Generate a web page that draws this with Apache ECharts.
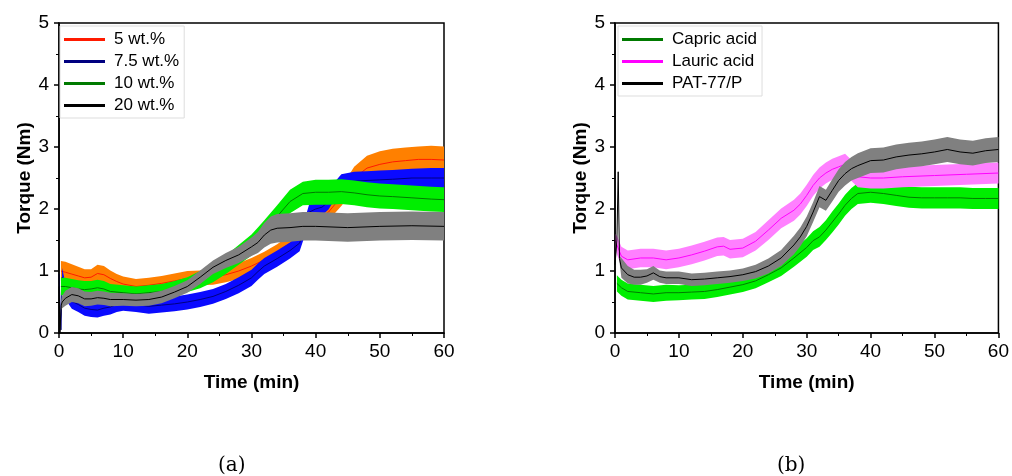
<!DOCTYPE html>
<html>
<head>
<meta charset="utf-8">
<script src="https://cdn.jsdelivr.net/npm/echarts@6/dist/echarts.min.js"></script>
<style>
html,body{margin:0;padding:0;background:#fff;}
#chart{width:1012px;height:476px;}
</style>
</head>
<body>
<div id="chart"></div>
<script>
// ---------- Panel (a): torque vs time, filler loading ----------
const t5 = [0.3, 1, 2, 3, 4, 5, 6, 7, 8, 9, 10, 12, 14, 16, 18, 20, 22, 24, 26, 28, 30, 32, 34, 36, 38, 40, 42, 44, 46, 48, 50, 52, 54, 56, 58, 60];
const mean5 = [1.0, 0.98, 0.95, 0.92, 0.89, 0.9, 0.96, 0.94, 0.88, 0.83, 0.79, 0.75, 0.77, 0.8, 0.84, 0.88, 0.89, 0.9, 0.94, 1.0, 1.08, 1.18, 1.3, 1.45, 1.62, 1.8, 1.95, 2.2, 2.5, 2.66, 2.72, 2.76, 2.78, 2.8, 2.8, 2.79];
const spread5 = [0.16, 0.17, 0.16, 0.15, 0.14, 0.13, 0.14, 0.14, 0.13, 0.12, 0.12, 0.12, 0.12, 0.12, 0.12, 0.12, 0.12, 0.12, 0.12, 0.13, 0.13, 0.13, 0.13, 0.13, 0.13, 0.13, 0.13, 0.15, 0.18, 0.2, 0.21, 0.21, 0.21, 0.21, 0.22, 0.22];

const t75 = [0, 0.3, 0.5, 0.8, 1, 2, 3, 4, 5, 6, 7, 8, 9, 10, 12, 14, 16, 18, 20, 22, 24, 26, 28, 30, 31, 32, 34, 36, 37.5, 38.3, 39, 40, 41, 42, 43, 44, 46, 48, 50, 52, 55, 58, 60];
const mean75 = [0.95, 0.05, 0.9, 0.75, 0.67, 0.51, 0.46, 0.4, 0.38, 0.37, 0.4, 0.42, 0.46, 0.48, 0.46, 0.43, 0.45, 0.47, 0.5, 0.54, 0.59, 0.67, 0.77, 0.89, 0.99, 1.08, 1.2, 1.33, 1.45, 1.7, 1.95, 2.0, 2.03, 2.12, 2.3, 2.42, 2.45, 2.46, 2.47, 2.48, 2.5, 2.5, 2.5];
const spread75 = [0.02, 0.02, 0.15, 0.15, 0.13, 0.12, 0.12, 0.12, 0.12, 0.12, 0.12, 0.12, 0.12, 0.12, 0.12, 0.12, 0.12, 0.12, 0.12, 0.12, 0.12, 0.12, 0.13, 0.13, 0.13, 0.13, 0.13, 0.13, 0.13, 0.13, 0.13, 0.13, 0.13, 0.13, 0.14, 0.14, 0.15, 0.15, 0.15, 0.15, 0.15, 0.16, 0.16];

const t10 = [0.3, 1, 2, 3, 4, 5, 6, 7, 8, 10, 12, 14, 16, 18, 20, 22, 24, 26, 28, 30, 31, 32, 34, 36, 38, 40, 42, 44, 46, 48, 50, 52, 55, 58, 60];
const mean10 = [0.75, 0.75, 0.73, 0.71, 0.7, 0.71, 0.73, 0.71, 0.67, 0.65, 0.63, 0.65, 0.67, 0.72, 0.78, 0.86, 0.97, 1.1, 1.26, 1.42, 1.52, 1.64, 1.88, 2.12, 2.25, 2.27, 2.27, 2.28, 2.26, 2.23, 2.21, 2.2, 2.18, 2.16, 2.15];
const spread10 = [0.14, 0.14, 0.14, 0.14, 0.14, 0.13, 0.13, 0.13, 0.12, 0.12, 0.12, 0.12, 0.12, 0.12, 0.12, 0.14, 0.15, 0.15, 0.16, 0.17, 0.18, 0.18, 0.18, 0.19, 0.19, 0.2, 0.2, 0.2, 0.2, 0.2, 0.2, 0.2, 0.2, 0.2, 0.2];

const t20 = [0, 0.15, 0.35, 0.5, 1, 2, 3, 4, 5, 6, 7, 8, 10, 12, 14, 16, 18, 20, 22, 24, 26, 28, 30, 31, 32, 33, 34, 36, 38, 40, 45, 50, 55, 60];
const mean20 = [0.75, 0.0, 0.45, 0.5, 0.56, 0.62, 0.6, 0.55, 0.55, 0.57, 0.56, 0.54, 0.54, 0.53, 0.54, 0.58, 0.66, 0.75, 0.9, 1.06, 1.17, 1.26, 1.39, 1.46, 1.58, 1.66, 1.69, 1.7, 1.72, 1.72, 1.7, 1.72, 1.73, 1.72];
const spread20 = [0.02, 0.02, 0.08, 0.1, 0.12, 0.12, 0.12, 0.12, 0.11, 0.11, 0.11, 0.11, 0.1, 0.1, 0.1, 0.1, 0.1, 0.1, 0.11, 0.11, 0.12, 0.13, 0.15, 0.17, 0.2, 0.22, 0.23, 0.23, 0.23, 0.23, 0.23, 0.23, 0.23, 0.23];

// ---------- Panel (b): torque vs time, plasticizer type ----------
const tCa = [0.3, 1, 2, 4, 6, 8, 10, 12, 14, 16, 18, 20, 22, 24, 26, 28, 30, 31, 32, 33, 34, 35, 36, 37, 38, 40, 42, 44, 46, 48, 50, 52, 54, 56, 58, 60];
const meanCa = [0.8, 0.73, 0.67, 0.65, 0.63, 0.65, 0.65, 0.66, 0.67, 0.7, 0.74, 0.78, 0.84, 0.94, 1.05, 1.21, 1.38, 1.49, 1.55, 1.66, 1.79, 1.92, 2.06, 2.17, 2.25, 2.27, 2.25, 2.22, 2.19, 2.18, 2.18, 2.18, 2.18, 2.17, 2.17, 2.17];
const spreadCa = [0.13, 0.13, 0.13, 0.13, 0.13, 0.13, 0.12, 0.12, 0.12, 0.12, 0.12, 0.12, 0.12, 0.12, 0.13, 0.14, 0.15, 0.15, 0.16, 0.16, 0.17, 0.17, 0.17, 0.17, 0.17, 0.17, 0.17, 0.17, 0.17, 0.17, 0.17, 0.17, 0.17, 0.17, 0.17, 0.17];

const tLa = [0, 0.3, 1, 2, 4, 6, 8, 10, 12, 14, 16, 17, 18, 20, 22, 24, 26, 28, 29, 30, 31, 32, 33, 34, 35, 36, 37, 38, 40, 42, 45, 50, 55, 60];
const meanLa = [1.5, 1.42, 1.24, 1.18, 1.21, 1.21, 1.18, 1.21, 1.26, 1.32, 1.39, 1.4, 1.35, 1.37, 1.48, 1.66, 1.85, 1.98, 2.08, 2.22, 2.38, 2.5, 2.58, 2.64, 2.68, 2.72, 2.62, 2.52, 2.5, 2.5, 2.52, 2.54, 2.56, 2.58];
const spreadLa = [0.1, 0.15, 0.15, 0.15, 0.15, 0.15, 0.15, 0.15, 0.15, 0.15, 0.15, 0.15, 0.15, 0.15, 0.15, 0.16, 0.16, 0.17, 0.17, 0.17, 0.17, 0.17, 0.17, 0.17, 0.17, 0.17, 0.17, 0.17, 0.17, 0.17, 0.17, 0.17, 0.17, 0.17];

const tPa = [0, 0.3, 0.5, 0.7, 1, 2, 3, 4, 5, 6, 7, 8, 10, 12, 14, 16, 18, 20, 22, 24, 26, 28, 29, 30, 31, 32, 33, 34, 35, 36, 37, 38, 40, 42, 44, 46, 48, 50, 52, 54, 56, 58, 60];
const meanPa = [1.1, 1.5, 2.6, 1.2, 1.05, 0.94, 0.9, 0.9, 0.92, 0.97, 0.91, 0.89, 0.89, 0.86, 0.87, 0.89, 0.91, 0.94, 0.99, 1.08, 1.21, 1.42, 1.55, 1.72, 1.95, 2.2, 2.14, 2.3, 2.46, 2.57, 2.65, 2.7, 2.78, 2.79, 2.84, 2.87, 2.89, 2.92, 2.96, 2.92, 2.9, 2.94, 2.96];
const spreadPa = [0.03, 0.03, 0.03, 0.05, 0.16, 0.14, 0.12, 0.12, 0.11, 0.11, 0.1, 0.1, 0.1, 0.1, 0.1, 0.1, 0.1, 0.1, 0.11, 0.12, 0.13, 0.15, 0.15, 0.16, 0.16, 0.17, 0.17, 0.18, 0.18, 0.19, 0.19, 0.2, 0.2, 0.2, 0.2, 0.2, 0.2, 0.2, 0.2, 0.2, 0.2, 0.2, 0.2];

const xTicks = { min: 0, max: 60, interval: 10 };
const yTicks = { min: 0, max: 5, interval: 1 };
const legendA = ['5 wt.%', '7.5 wt.%', '10 wt.%', '20 wt.%'];
const legendB = ['Capric acid', 'Lauric acid', 'PAT-77/P'];

const FONT = '"Liberation Sans", Arial, sans-serif';

function buildPair(name, t, m, s, lineColor, bandColor, gi, order) {
  const band = t.map((x, i) => [x, m[i] - s[i], m[i] + s[i]]);
  const mean = t.map((x, i) => [x, m[i]]);
  return [
    {
      type: 'custom', name: name + ' band', xAxisIndex: gi, yAxisIndex: gi, silent: true,
      z: 2 + 2 * order,
      data: band, encode: { x: 0, y: [1, 2] }, clip: true,
      renderItem: function (params, api) {
        if (params.dataIndex !== 0) return null;
        const upper = band.map(p => api.coord([p[0], p[2]]));
        const lower = band.map(p => api.coord([p[0], p[1]])).reverse();
        return { type: 'polygon', shape: { points: upper.concat(lower) }, style: { fill: bandColor, stroke: null } };
      }
    },
    { type: 'line', name: name, xAxisIndex: gi, yAxisIndex: gi, data: mean, symbol: 'none',
      z: 3 + 2 * order,
      lineStyle: { width: 1, color: lineColor }, itemStyle: { color: lineColor } }
  ];
}

function xAxisCfg(gi) {
  return {
    type: 'value', gridIndex: gi, min: xTicks.min, max: xTicks.max, interval: xTicks.interval,
    name: 'Time (min)', nameLocation: 'middle', nameGap: 40, z: 30,
    nameTextStyle: { fontFamily: FONT, fontSize: 19, fontWeight: 'bold', color: '#000' },
    axisLine: { show: true, onZero: false, lineStyle: { color: '#000', width: 1.5 } },
    axisTick: { show: true, inside: false, length: 5, lineStyle: { color: '#000', width: 1.5 } },
    minorTick: { show: true, splitNumber: 2, length: 3, lineStyle: { color: '#000', width: 1 } },
    splitLine: { show: false },
    axisLabel: { fontFamily: FONT, fontSize: 19, color: '#000', margin: 9 }
  };
}
function yAxisCfg(gi) {
  return {
    type: 'value', gridIndex: gi, min: yTicks.min, max: yTicks.max, interval: yTicks.interval,
    name: 'Torque (Nm)', nameLocation: 'middle', nameGap: 25, z: 30,
    nameTextStyle: { fontFamily: FONT, fontSize: 19, fontWeight: 'bold', color: '#000' },
    axisLine: { show: true, onZero: false, lineStyle: { color: '#000', width: 1.5 } },
    axisTick: { show: true, inside: false, length: 5, lineStyle: { color: '#000', width: 1.5 } },
    minorTick: { show: true, splitNumber: 2, length: 3, lineStyle: { color: '#000', width: 1 } },
    splitLine: { show: false },
    axisLabel: { fontFamily: FONT, fontSize: 19, color: '#000', margin: 10 }
  };
}
function legendCfg(names, left, top) {
  return {
    data: names.map(n => ({ name: n, icon: 'rect' })),
    orient: 'vertical', left: left, top: top, z: 40,
    itemWidth: 41, itemHeight: 3, itemGap: 5,
    padding: [5, 5, 4, 4],
    borderColor: '#dddddd', borderWidth: 1, backgroundColor: '#fff',
    textStyle: { fontFamily: FONT, fontSize: 17, color: '#000', lineHeight: 16, padding: [0, 0, 0, 4] }
  };
}

const series = [].concat(
  buildPair('5 wt.%', t5, mean5, spread5, '#ff1a00', '#ff8000', 0, 0),
  buildPair('7.5 wt.%', t75, mean75, spread75, '#000080', '#0a0aff', 0, 1),
  buildPair('10 wt.%', t10, mean10, spread10, '#007a00', '#00ee00', 0, 2),
  buildPair('20 wt.%', t20, mean20, spread20, '#000000', '#808080', 0, 3),
  buildPair('Capric acid', tCa, meanCa, spreadCa, '#007a00', '#00ee00', 1, 0),
  buildPair('Lauric acid', tLa, meanLa, spreadLa, '#ff00ff', '#ff80ff', 1, 1),
  buildPair('PAT-77/P', tPa, meanPa, spreadPa, '#000000', '#808080', 1, 2)
);

const chart = echarts.init(document.getElementById('chart'), null, { renderer: 'canvas' });
chart.setOption({
  animation: false,
  backgroundColor: '#fff',
  grid: [
    { left: 59, top: 23, width: 385, height: 310, show: true, borderColor: '#000', borderWidth: 1.5, backgroundColor: 'transparent' },
    { left: 615, top: 23, width: 386, height: 310, show: true, borderColor: '#000', borderWidth: 1.5, backgroundColor: 'transparent' }
  ],
  xAxis: [xAxisCfg(0), xAxisCfg(1)],
  yAxis: [yAxisCfg(0), yAxisCfg(1)],
  legend: [legendCfg(legendA, 60, 26), legendCfg(legendB, 618, 26)],
  graphic: [
    { type: 'text', left: 218, top: 456, style: { text: '(a)', fontFamily: '"DejaVu Serif", serif', fontSize: 20, fill: '#000' } },
    { type: 'text', left: 777, top: 456, style: { text: '(b)', fontFamily: '"DejaVu Serif", serif', fontSize: 20, fill: '#000' } }
  ],
  series: series
});
</script>
</body>
</html>
